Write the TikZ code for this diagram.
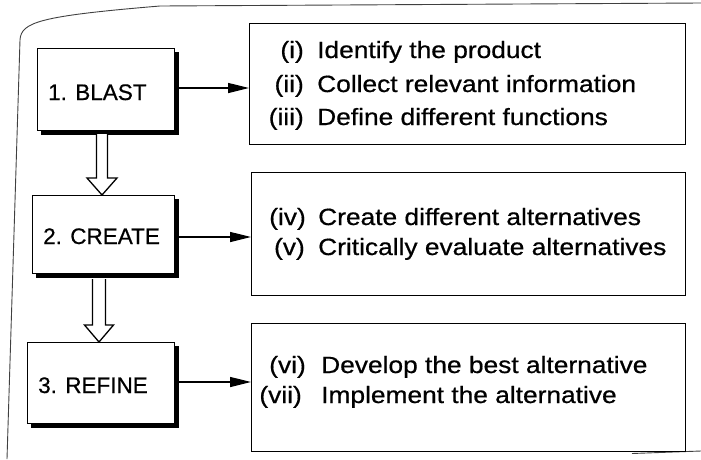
\documentclass[tikz,border=0pt]{standalone}
\usepackage{fontspec}
\setmainfont{Liberation Sans}
\newfontfamily\inkfont[BoldFont={Liberation Sans},BoldFeatures={FakeBold=0.6}]{Liberation Sans}
\usetikzlibrary{arrows.meta,backgrounds}

\newcommand{\widetext}[1]{\scalebox{1.12}[1]{#1}}

\begin{document}
\begin{tikzpicture}[x=1pt,y=-1pt,
  stagebox/.style={draw,line width=1.3pt,fill=white,anchor=north west,inner sep=0pt},
  listbox/.style={draw,line width=1.4pt,anchor=north west,inner sep=0pt},
  stagetext/.style={anchor=base west,inner sep=0pt,font=\inkfont\bfseries\fontsize{22.5}{26}\selectfont},
  numtext/.style={anchor=base east,inner sep=0pt,font=\inkfont\bfseries\fontsize{23.5}{27}\selectfont},
  itemtext/.style={anchor=base west,inner sep=0pt,font=\inkfont\bfseries\fontsize{23.5}{27}\selectfont},
  flow/.style={line width=1.3pt,-{Triangle[length=21pt,width=10pt]}},
  hollow/.style={line width=1.3pt,fill=white,line join=miter},
  shade/.style={fill=black},
  frame/.style={line width=0.9pt,black!75}]

\useasboundingbox (0,0) rectangle (701,459);

% page frame
\draw[frame] (7,459) -- (20,40) .. controls (21,22) and (40,16) .. (160,6) -- (701,3);
\draw[frame] (632,453.5) -- (701,451);

% stage boxes
\node[stagebox,minimum width=137pt,minimum height=82pt] (blast) at (37,48) {};
\node[stagebox,minimum width=142pt,minimum height=78pt] (create) at (32,195) {};
\node[stagebox,minimum width=147pt,minimum height=81pt] (refine) at (27,342) {};

% solid drop shadows on the right and bottom of the stage boxes
\begin{pgfonlayer}{background}
  \fill[shade] ([shift={(4,4)}]blast.north west) rectangle ([shift={(4,4)}]blast.south east);
  \fill[shade] ([shift={(4,4)}]create.north west) rectangle ([shift={(4,4)}]create.south east);
  \fill[shade] ([shift={(4,4)}]refine.north west) rectangle ([shift={(4,4)}]refine.south east);
\end{pgfonlayer}

\node[stagetext] (tblast) at (48,100) {1. BLAST};
\node[stagetext] (tcreate) at (43,244) {2. CREATE};
\node[stagetext] (trefine) at (38,393) {3. REFINE};

% activity boxes
\node[listbox,minimum width=436pt,minimum height=121pt] (list1) at (249,23) {};
\node[listbox,minimum width=434pt,minimum height=123pt] (list2) at (251,172) {};
\node[listbox,minimum width=434pt,minimum height=128pt] (list3) at (251,323) {};

\node[numtext] (n1) at (304,58) {\widetext{(i)}};
\node[itemtext] (i1) at (317,58) {\widetext{Identify the product}};
\node[numtext] (n2) at (304,92) {\widetext{(ii)}};
\node[itemtext] (i2) at (317,92) {\widetext{Collect relevant information}};
\node[numtext] (n3) at (304,125) {\widetext{(iii)}};
\node[itemtext] (i3) at (317,125) {\widetext{Define different functions}};

\node[numtext] (n4) at (306,225) {\widetext{(iv)}};
\node[itemtext] (i4) at (318,225) {\widetext{Create different alternatives}};
\node[numtext] (n5) at (305,255) {\widetext{(v)}};
\node[itemtext] (i5) at (318,255) {\widetext{Critically evaluate alternatives}};

\node[numtext] (n6) at (306,373) {\widetext{(vi)}};
\node[itemtext] (i6) at (321,373) {\widetext{Develop the best alternative}};
\node[numtext] (n7) at (302,403) {\widetext{(vii)}};
\node[itemtext] (i7) at (321,403) {\widetext{Implement the alternative}};

% arrows to the activity boxes
\coordinate (y1) at (0,88);
\coordinate (y2) at (0,237);
\coordinate (y3) at (0,382);
\draw[flow] ([xshift=4pt]blast.east |- y1) -- (list1.west |- y1);
\draw[flow] ([xshift=4pt]create.east |- y2) -- (list2.west |- y2);
\draw[flow] ([xshift=4pt]refine.east |- y3) -- (list3.west |- y3);

% hollow block arrows between the stages
\coordinate (b1) at (102,134);
\coordinate (h1) at (102,178);
\coordinate (b2) at (99,279);
\coordinate (h2) at (99,325);
\draw[hollow]
  ([xshift=-5.5pt]b1) -- ([xshift=-5.5pt]h1) -- ([xshift=-15pt]h1)
  -- (b1 |- create.north) -- ([xshift=15pt]h1) -- ([xshift=5.5pt]h1)
  -- ([xshift=5.5pt]b1);
\draw[hollow]
  ([xshift=-6.5pt]b2) -- ([xshift=-6.5pt]h2) -- ([xshift=-14.5pt]h2)
  -- (b2 |- refine.north) -- ([xshift=14.5pt]h2) -- ([xshift=6.5pt]h2)
  -- ([xshift=6.5pt]b2);
\end{tikzpicture}
\end{document}
